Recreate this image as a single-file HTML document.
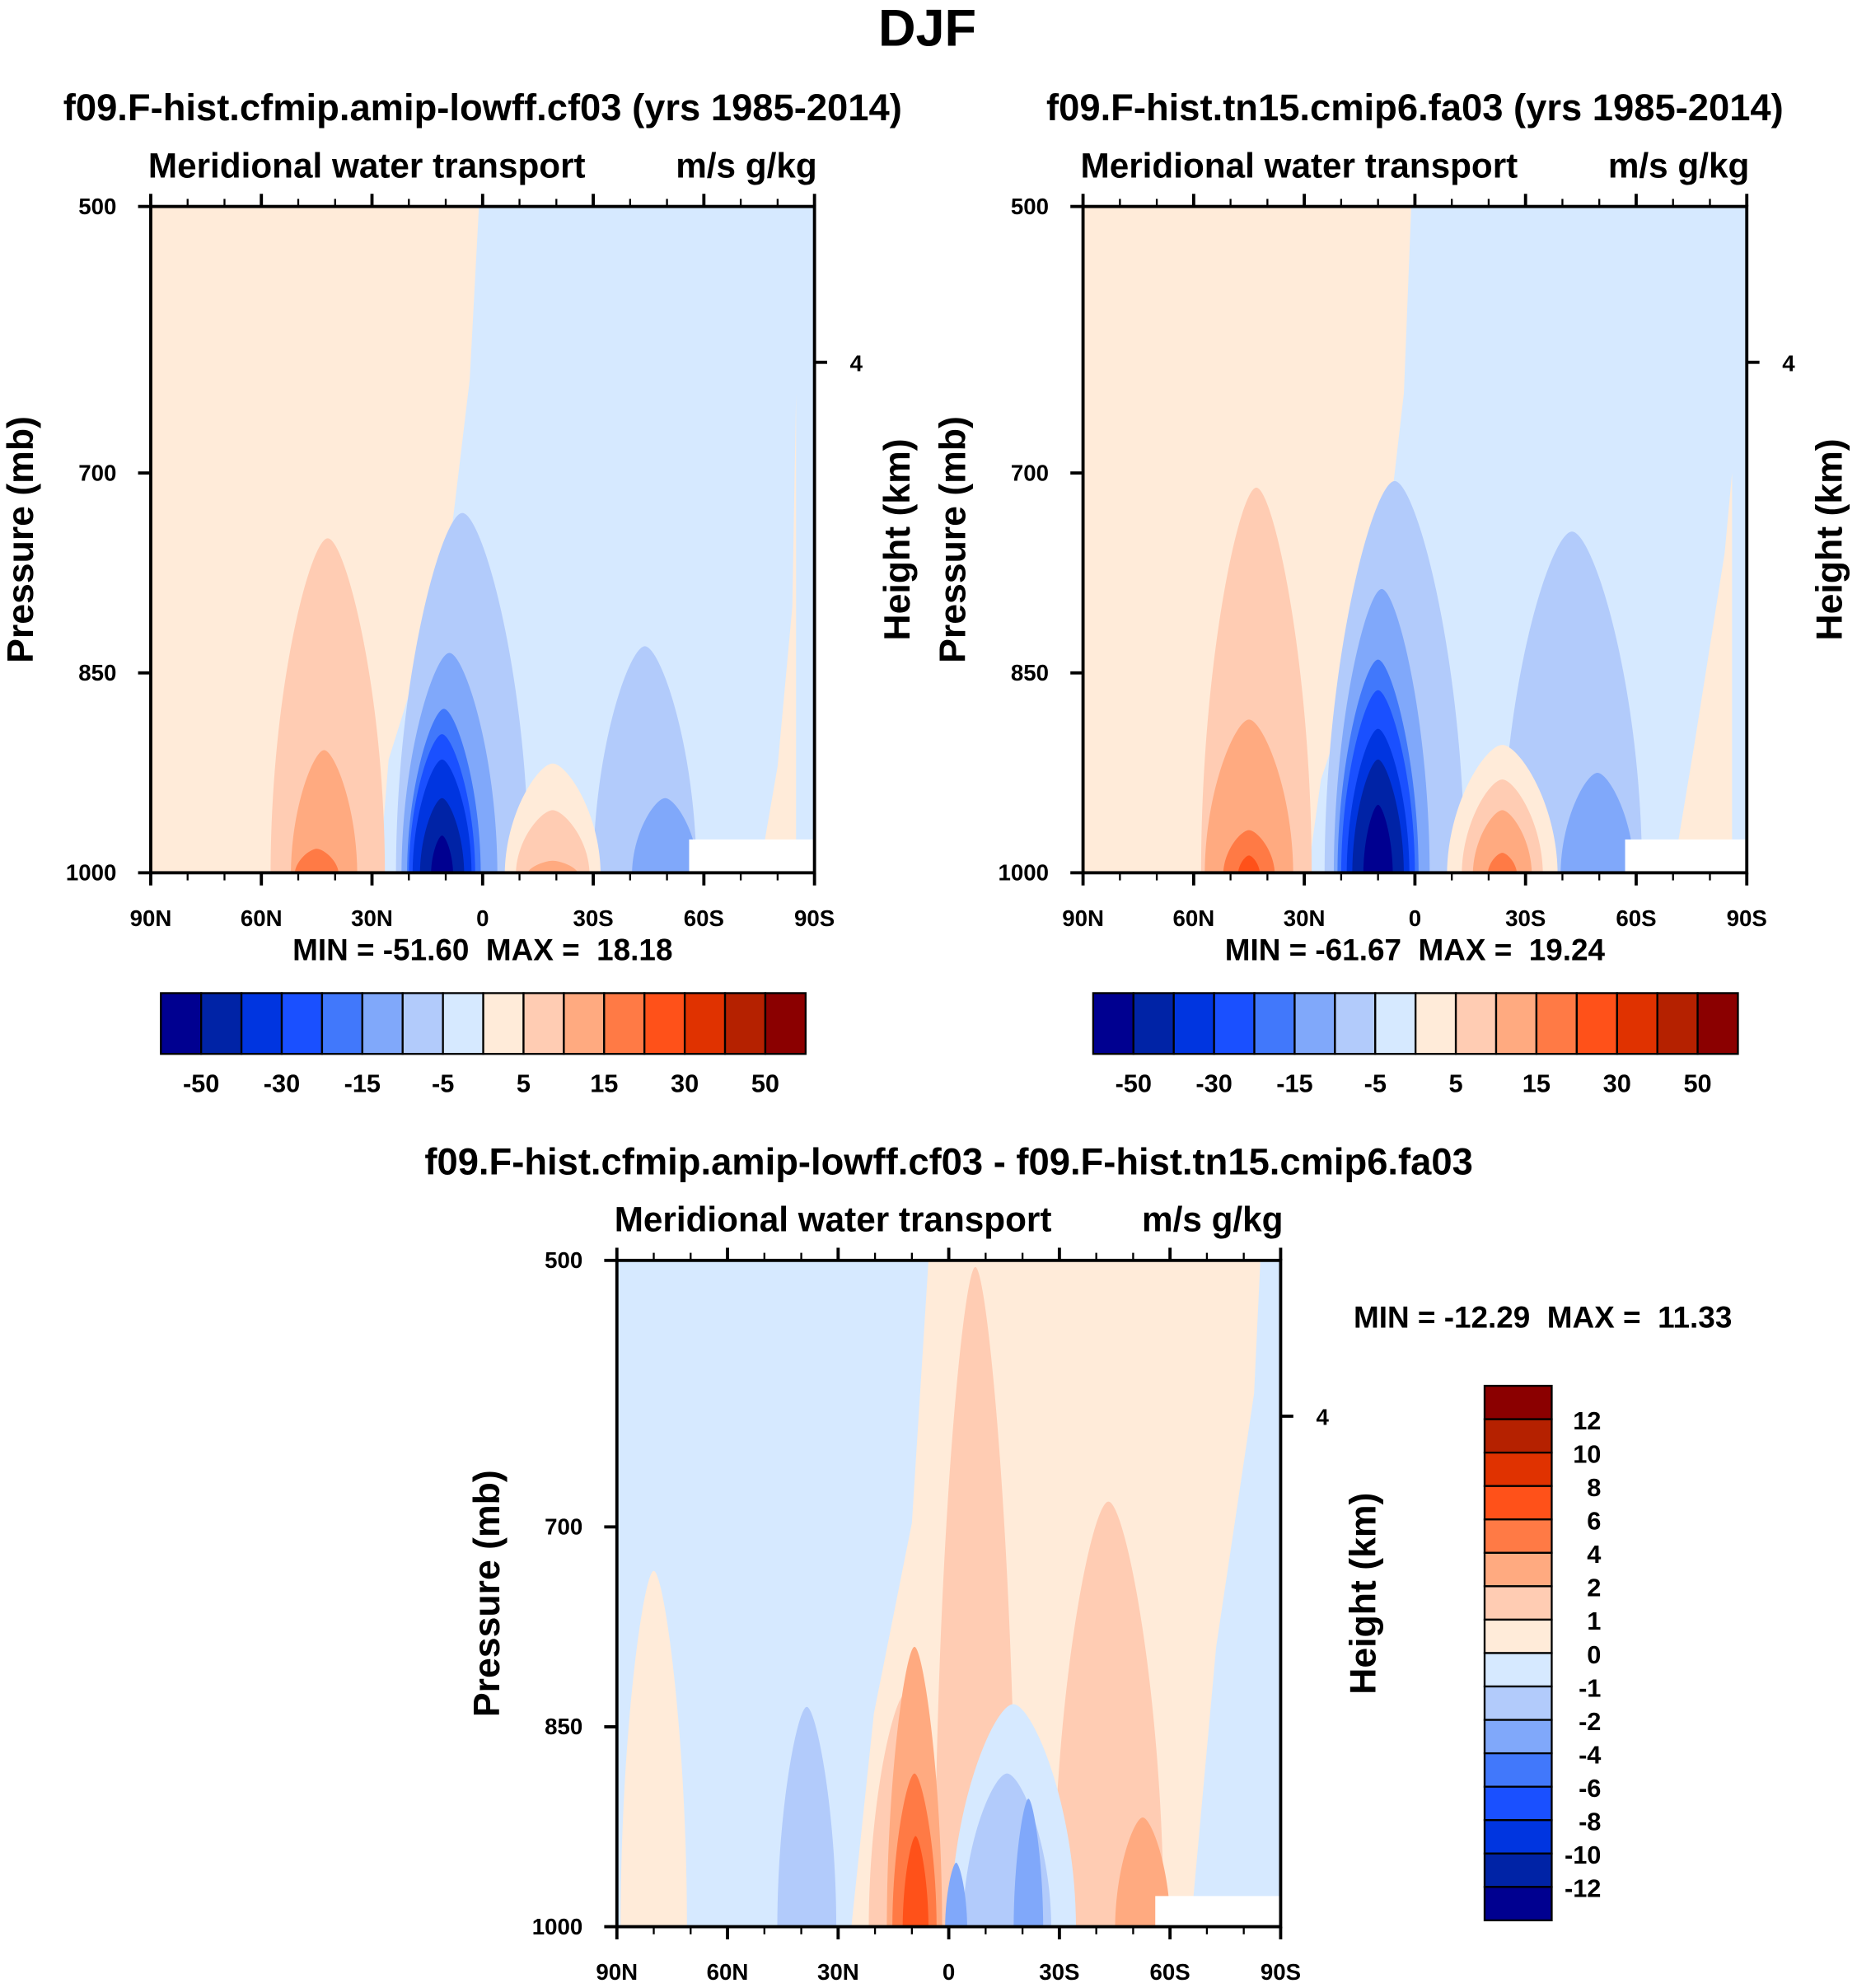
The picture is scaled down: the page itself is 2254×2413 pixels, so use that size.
<!DOCTYPE html>
<html><head><meta charset="utf-8"><style>
html,body{margin:0;padding:0;background:#fff}
svg{display:block}
text{font-family:"Liberation Sans",Arial,sans-serif;font-weight:bold;fill:#000;white-space:pre}
</style></head><body>
<svg id="chart" xmlns="http://www.w3.org/2000/svg" xml:space="preserve" width="2254" height="2413" viewBox="0 0 1466 1569.4">
<text x="732" y="36" font-size="41" text-anchor="middle">DJF</text>
</svg>
<script>
const colors=["#000090","#0023a6","#0035e0","#1a50ff","#4178fb","#80a8fa","#b2cbfb","#d6e9ff","#ffebd9","#ffccb3","#ffaa80","#ff7a45","#ff5119","#e03200","#b52100","#8b0000"];
const latTicks=[-90,-60,-30,0,30,60,90];
const latLabels=["90N","60N","30N","0","30S","60S","90S"];
const pTicks=[500,700,850,1000];
const cbLabelsAbs=["-50","-30","-15","-5","5","15","30","50"];
const cbLabelsDiff=["12","10","8","6","4","2","1","0","-1","-2","-4","-6","-8","-10","-12"];
// blobs: [centerLat, halfWidthDeg, topPressure, levelIndex]
const blobs1=[[-42,15.5,749,9],[-43,9,908,10],[-45,6,982,11],[-5.5,18,730,6],[-9,13,835,5],[-10.5,10,877,4],[-11,9,896,3],[-11,8,915,2],[-11,6,944,1],[-11,3,972,0],[44,14,830,6],[49.5,9,944,5],[19,13,918,8],[19,10,953,9],[19,7,991,10]];
const blobs2=[[-43,15,711,9],[-45,12,885,10],[-45,7,968,11],[-45,3,987,12],[-5.5,19,706,6],[-9,13,787,5],[-10,11,840,4],[-10,10,863,3],[-10,8.5,892,2],[-10,7,915,1],[-10,4,949,0],[42.6,19,744,6],[49.5,10,925,5],[23.7,15,904,8],[23.7,11,930,9],[23.7,8,953,10],[23.7,4,985,11]];
const blobs3=[[-80,9,733,8],[-38.5,8,835,6],[7.2,11,505,9],[43.3,15,681,9],[-11.7,10,825,9],[-9.3,7.5,790,10],[-9.3,6,885,11],[-9,3.5,932,12],[17.5,17,833,7],[15.8,12,885,6],[21.6,4,904,5],[2,3,952,5],[52.6,7.5,918,10]];
// background orange region boundaries (lat, p)
const bg1Lat=[-90,-1,-3.5,-8.5,-17,-25.5,-28,-90], bg1P=[500,500,630,745,840,915,1000,1000];
const bg2Lat=[-90,-1,-3,-8,-17,-25.5,-29,-90], bg2P=[500,500,640,760,860,930,1000,1000];
const bg3Lat=[-5.5,-10,-20.3,-26.4,65.6,72.5,82.8,84.5], bg3P=[500,697,840,1000,1000,790,600,500];

const svg=document.getElementById('chart');
const NS="http://www.w3.org/2000/svg";
function mk(tag,attrs,parent){const e=document.createElementNS(NS,tag);for(const k in attrs)e.setAttribute(k,attrs[k]);(parent||svg).appendChild(e);return e;}
function txt(s,x,y,size,anchor,parent,rot){const t=mk('text',{x:x,y:y,'font-size':size,'text-anchor':anchor||'middle'},parent);if(rot)t.setAttribute('transform','rotate(-90 '+x+' '+y+')');t.textContent=s;return t;}

function panel(name,x0,y0,title,blobs,bgLat,bgP,minmax,mmx,mmy,whiteRect,farRight){
  const W=524,H=526;
  const g=mk('g',{});
  
  
  const X=lat=>x0+(lat+90)/180*W;
  const Y=p=>y0+(p-500)/500*H;
  const t=txt(title,x0+W/2,y0-68,29.5,'middle',g);
  
  const h1=txt('Meridional water transport',x0-2,y0-23,27.5,'start',g);
  
  const h2=txt('m/s g/kg',x0+W+2,y0-23,27.5,'end',g);
  
  const clip='clip-'+name;
  const cp=mk('clipPath',{id:clip},g);mk('rect',{x:x0,y:y0,width:W,height:H},cp);
  const pg=mk('g',{'clip-path':'url(#'+clip+')'},g);
  
  mk('rect',{x:x0,y:y0,width:W,height:H,fill:colors[7]},pg);
  let d='';
  for(let i=0;i<bgLat.length;i++)d+=(i?'L':'M')+X(bgLat[i]).toFixed(1)+','+Y(bgP[i]).toFixed(1);
  const bgp=mk('path',{d:d+'Z',fill:colors[8]},pg);
  
  if(farRight){let fd='';for(let i=0;i<farRight[0].length;i++)fd+=(i?'L':'M')+X(farRight[0][i])+','+Y(farRight[1][i]);mk('path',{d:fd+'Z',fill:colors[8]},pg);}
  blobs.forEach(b=>{
    const L=X(b[0]-b[1]),R=X(b[0]+b[1]),C=X(b[0]),B=Y(1000)+2,T=Y(b[2]);
    const h=B-T, hw=(R-L)/2, M=T+0.45*h;
    const p=mk('path',{d:`M${L},${B}C${L},${M} ${C-0.3*hw},${T} ${C},${T}C${C+0.3*hw},${T} ${R},${M} ${R},${B}Z`,fill:colors[b[3]]},pg);
    
    
  });
  if(whiteRect){const wr=mk('rect',{x:X(whiteRect[0]),y:Y(whiteRect[2]),width:X(whiteRect[1])-X(whiteRect[0]),height:Y(1000)-Y(whiteRect[2]),fill:'#fff'},pg);}
  mk('rect',{x:x0,y:y0,width:W,height:H,fill:'none',stroke:'#000','stroke-width':2.5},g);
  for(let lat=-90;lat<=90;lat+=10){
    const maj=lat%30===0, len=maj?10:6;
    mk('line',{x1:X(lat),x2:X(lat),y1:Y(1000),y2:Y(1000)+len,stroke:'#000','stroke-width':maj?2.5:1.5},g);
    mk('line',{x1:X(lat),x2:X(lat),y1:y0,y2:y0-len,stroke:'#000','stroke-width':maj?2.5:1.5},g);
  }
  latTicks.forEach((l,i)=>{const tl=txt(latLabels[i],X(l),Y(1000)+42,18,'middle',g);});
  pTicks.forEach(p=>{mk('line',{x1:x0-10,x2:x0,y1:Y(p),y2:Y(p),stroke:'#000','stroke-width':2.5},g);
    const tl=txt(String(p),x0-27,Y(p)+6,18,'end',g);});
  mk('line',{x1:x0+W,x2:x0+W+10,y1:y0+123,y2:y0+123,stroke:'#000','stroke-width':2.5},g);
  txt('4',x0+W+28,y0+130,18,'start',g);
  const yt=txt('Pressure (mb)',x0-93,y0+263,29,'middle',g,true);
  const ht=txt('Height (km)',x0+W+75,y0+263,29,'middle',g,true);
  if(minmax){const mm=txt(minmax,mmx,mmy,24,'middle',g);}
}
function hbar(name,x0,y0){
  const g=mk('g',{});
  const w=509/16;
  colors.forEach((c,i)=>{const r=mk('rect',{x:x0+i*w,y:y0,width:w,height:48,fill:c,stroke:'#000','stroke-width':1.5},g);});
  cbLabelsAbs.forEach((s,i)=>{const t=txt(s,x0+(2*i+1)*w,y0+78,20,'middle',g);});
}
function vbar(name,x0,y0){
  const g=mk('g',{});
  const h=422/16;
  colors.slice().reverse().forEach((c,i)=>{const r=mk('rect',{x:x0,y:y0+i*h,width:53,height:h,fill:c,stroke:'#000','stroke-width':1.5},g);});
  cbLabelsDiff.forEach((s,i)=>{const t=txt(s,x0+92,y0+(i+1)*h+8,20,'end',g);});
}
panel('panel-cf03',119,163,'f09.F-hist.cfmip.amip-lowff.cf03 (yrs 1985-2014)',blobs1,bg1Lat,bg1P,'MIN = -51.60  MAX =  18.18',381,758,[56,90,975],[[75,80,84,85,85],[1000,920,800,640,1000]]);
hbar('colorbar-cf03',127,784);
panel('panel-fa03',855,163,'f09.F-hist.tn15.cmip6.fa03 (yrs 1985-2014)',blobs2,bg2Lat,bg2P,'MIN = -61.67  MAX =  19.24',1117,758,[57,90,975],[[70,76,84,86,86],[1000,900,760,700,1000]]);
hbar('colorbar-fa03',863,784);
panel('panel-diff',487,995,'f09.F-hist.cfmip.amip-lowff.cf03 - f09.F-hist.tn15.cmip6.fa03',blobs3,bg3Lat,bg3P,'',0,0,[56,90,977],null);
const mm3=txt('MIN = -12.29  MAX =  11.33',1218,1048,24,'middle');


vbar('colorbar-diff',1172,1094);
</script>
</body></html>
